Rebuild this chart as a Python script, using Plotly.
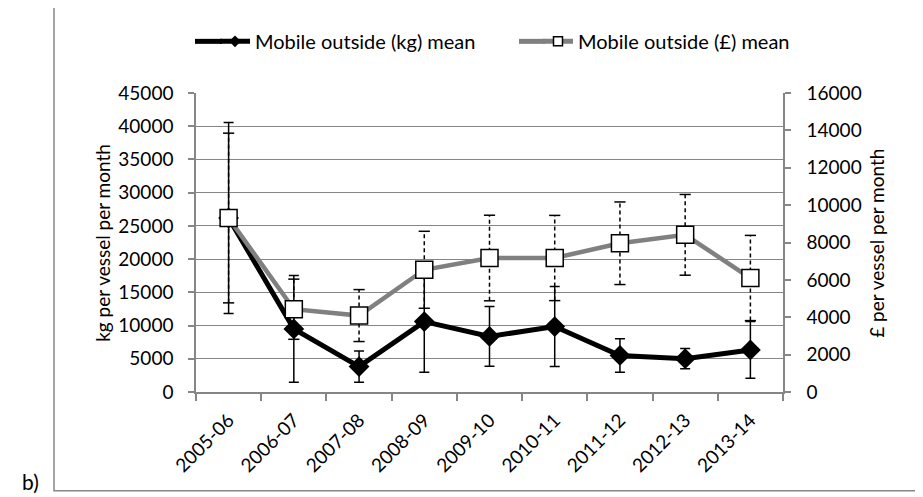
import plotly.graph_objects as go

categories = ['2005-06', '2006-07', '2007-08', '2008-09', '2009-10',
              '2010-11', '2011-12', '2012-13', '2013-14']
kg_mean = [26190, 9500, 3820, 10600, 8370, 9850, 5500, 5020, 6330]
kg_err = [14380, 8040, 2340, 7630, 4480, 6030, 2520, 1510, 4270]
gbp_mean = [9310, 4430, 4090, 6540, 7170, 7170, 7960, 8410, 6100]
gbp_err = [4540, 1610, 1390, 2060, 2290, 2280, 2210, 2160, 2280]

kg_name = 'Mobile outside (kg) mean'
gbp_name = 'Mobile outside (£) mean'
left_title = 'kg per vessel per month'
right_title = '£ per vessel per month'

FONT = 'Lato'
FS = 19
GRID = '#868686'
KG_COLOR = 'black'
GBP_COLOR = '#808080'

fig = go.Figure()

# kg series (primary axis), solid error bars
fig.add_trace(go.Scatter(
    x=categories, y=kg_mean, mode='lines+markers', showlegend=False,
    line=dict(color=KG_COLOR, width=5),
    marker=dict(symbol='diamond', size=16, color=KG_COLOR),
    error_y=dict(type='data', array=kg_err, visible=True, color='black',
                 thickness=1.5, width=5),
))

# £ series dashed error bars (secondary axis)
ex, ey = [], []
for c, m, e in zip(categories, gbp_mean, gbp_err):
    ex += [c, c, None]
    ey += [m - e, m + e, None]
fig.add_trace(go.Scatter(
    x=ex, y=ey, yaxis='y2', mode='lines', showlegend=False, hoverinfo='skip',
    line=dict(color='black', width=1.5, dash='4px,3px'),
))
cx, cy = [], []
for c, m, e in zip(categories, gbp_mean, gbp_err):
    cx += [c, c]
    cy += [m - e, m + e]
fig.add_trace(go.Scatter(
    x=cx, y=cy, yaxis='y2', mode='markers', showlegend=False, hoverinfo='skip',
    marker=dict(symbol='line-ew', size=8, line=dict(color='black', width=1.5)),
))
fig.add_trace(go.Scatter(
    x=categories, y=gbp_mean, yaxis='y2', mode='lines+markers', showlegend=False,
    line=dict(color=GBP_COLOR, width=4.5),
    marker=dict(symbol='square', size=17, color='white',
                line=dict(color='black', width=1.5)),
))

# legend entries
fig.add_trace(go.Scatter(
    x=[None], y=[None], mode='lines+markers', name=kg_name, legend='legend',
    line=dict(color=KG_COLOR, width=5),
    marker=dict(symbol='diamond', size=9, color=KG_COLOR),
))
fig.add_trace(go.Scatter(
    x=[None], y=[None], yaxis='y2', mode='lines+markers', name=gbp_name,
    legend='legend2',
    line=dict(color=GBP_COLOR, width=5),
    marker=dict(symbol='square', size=9, color='white',
                line=dict(color='black', width=1.5)),
))

# page has an 8px body margin: work in page coordinates, convert to figure
OFF = 8
W, H = 923 - OFF, 497 - OFF
PL, PR, PT, PB = 196, 783, 93.3, 392   # plot area in page px
L, R, T, B = PL - OFF, W - (PR - OFF), PT - OFF, H - (PB - OFF)
pw, ph = W - L - R, H - T - B

def px(x):
    return (x - OFF - L) / pw

def py(y):
    return (H - B - (y - OFF)) / ph

LEG_Y = 41.7
legend_common = dict(
    orientation='h', xanchor='left', yanchor='middle',
    font=dict(family=FONT, size=20), bgcolor='rgba(0,0,0,0)',
)

fig.update_layout(
    width=W, height=H,
    margin=dict(l=L, r=R, t=T, b=B, pad=0, autoexpand=False),
    paper_bgcolor='white', plot_bgcolor='white',
    font=dict(family=FONT, size=FS, color='black'),
    xaxis=dict(
        type='category', range=[-0.5, 8.5], tickson='boundaries',
        showline=True, linecolor=GRID, linewidth=1.5,
        ticks='outside', ticklen=7, tickcolor=GRID, tickwidth=1.5,
        tickangle=-45, showgrid=False, zeroline=False, ticklabelstandoff=8,
    ),
    yaxis=dict(
        range=[0, 45000], dtick=5000, tickformat='d',
        showgrid=True, gridcolor=GRID, gridwidth=1,
        showline=True, linecolor=GRID, linewidth=1.5,
        ticks='outside', ticklen=6, tickcolor=GRID, tickwidth=1.5,
        zeroline=False, ticklabelstandoff=11,
    ),
    yaxis2=dict(
        range=[0, 16000], dtick=2000, tickformat='d',
        overlaying='y', side='right',
        showgrid=False, showline=True, linecolor=GRID, linewidth=1.5,
        ticks='outside', ticklen=6, tickcolor=GRID, tickwidth=1.5,
        zeroline=False, ticklabelstandoff=12,
    ),
    legend=dict(x=px(215), y=py(LEG_Y), **legend_common),
    legend2=dict(x=px(538), y=py(LEG_Y), **legend_common),
    shapes=[
        dict(type='rect', xref='paper', yref='paper',
             x0=px(54), x1=px(921), y0=py(490.7), y1=py(6.3),
             line=dict(color=GRID, width=1.5), layer='below'),
        # lengthen the legend line samples to Excel's longer style
        dict(type='line', xref='paper', yref='paper',
             x0=px(195), x1=px(222), y0=py(LEG_Y), y1=py(LEG_Y),
             line=dict(color=KG_COLOR, width=5)),
        dict(type='line', xref='paper', yref='paper',
             x0=px(519), x1=px(545), y0=py(LEG_Y), y1=py(LEG_Y),
             line=dict(color=GBP_COLOR, width=5)),
    ],
    annotations=[
        dict(text=left_title, xref='paper', yref='paper', x=px(103), y=py(243),
             xanchor='center', yanchor='middle',
             textangle=-90, showarrow=False, font=dict(family=FONT, size=FS)),
        dict(text=right_title, xref='paper', yref='paper', x=px(877), y=py(243),
             xanchor='center', yanchor='middle',
             textangle=-90, showarrow=False, font=dict(family=FONT, size=FS)),
        dict(text='b)', xref='paper', yref='paper', x=px(30), y=py(481),
             xanchor='center', yanchor='middle',
             showarrow=False, font=dict(family=FONT, size=21)),
    ],
)

fig.write_html('out.html')
